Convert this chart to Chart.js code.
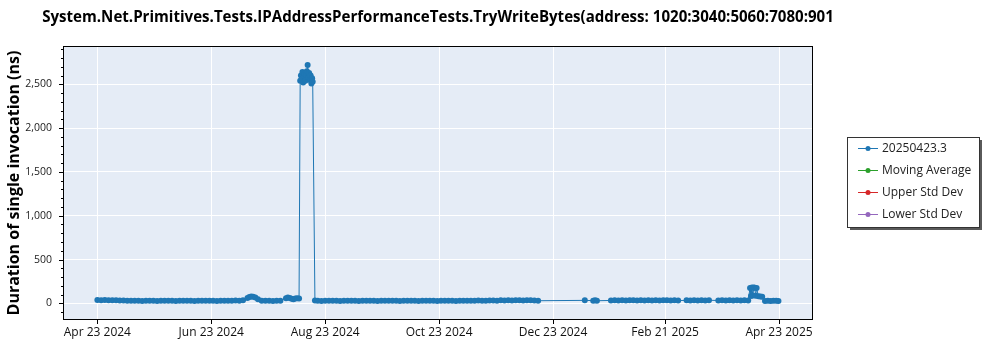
<!DOCTYPE html>
<html>
<head>
<meta charset="utf-8">
<script src="https://cdn.jsdelivr.net/npm/chart.js@4.4.1/dist/chart.umd.min.js"></script>
<style>
  html, body { margin: 0; padding: 0; background: #fff; }
</style>
</head>
<body>
<canvas id="chart" width="1000" height="350"></canvas>
<script>
// x values are days since Apr 23 2024
const titleText = "System.Net.Primitives.Tests.IPAddressPerformanceTests.TryWriteBytes(address: 1020:3040:5060:7080:901";
const yAxisTitle = "Duration of single invocation (ns)";

const tickDays = [0, 61, 122, 183, 244, 304, 365];
const tickLabels = ["Apr 23 2024", "Jun 23 2024", "Aug 23 2024", "Oct 23 2024", "Dec 23 2024", "Feb 21 2025", "Apr 23 2025"];
const yTickValues = [0, 500, 1000, 1500, 2000, 2500];

const seriesNames = ["20250423.3", "Moving Average", "Upper Std Dev", "Lower Std Dev"];
const seriesColors = ["#1f77b4", "#2ca02c", "#d62728", "#9467bd"];

const runDays = [
    0, 2, 4, 6, 8, 10, 12, 14, 16, 18,
    20, 22, 24, 26, 28, 30, 32, 34, 36, 38,
    40, 42, 44, 46, 48, 50, 52, 54, 56, 58,
    60, 62, 64, 66, 68, 70, 72, 74, 76, 78,
    80.4, 81.4, 82.4, 83.4, 84.6, 86,
    88, 90, 92, 94, 96, 98,
    101, 102, 103, 104, 105, 106, 107, 108,
    108.6, 109, 109.4, 109.8, 110.2, 110.6, 111, 111.4, 111.8,
    112.2, 112.6, 113, 113.4, 113.8, 114.2, 114.6, 115, 115.3,
    116.5, 118, 120, 122, 124, 126, 128, 130, 132, 134,
    136, 138, 140, 142, 144, 146, 148, 150, 152, 154,
    156, 158, 160, 162, 164, 166, 168, 170, 172, 174,
    176, 178, 180, 182, 184, 186, 188, 190, 192, 194,
    196, 198, 200, 202, 204, 206, 208, 210, 212, 214,
    216, 218, 220, 222, 224, 226, 228, 230, 232, 234,
    236,
    261, 265.5, 266.5, 267.5,
    275, 277, 279, 281, 283, 285, 287, 289, 291, 293,
    295, 297, 299, 301, 303, 305, 307, 309, 311,
    315.5, 317.5, 319.5, 321.5, 323.5, 325.5, 327.5,
    332.5, 334.5, 336.5, 338.5, 340.5, 342.5, 344.5, 346.5, 348.5,
    349.5, 350, 350.5, 351, 351.5, 352, 352.5, 353, 354, 355, 356,
    357.5, 359, 360.5, 362, 363.5, 364.7
];

const durations = [
    38, 36, 37, 35, 34, 36, 33, 32, 30, 31,
    29, 30, 28, 31, 29, 30, 28, 30, 29, 31,
    30, 28, 29, 30, 31, 29, 28, 30, 29, 31,
    30, 29, 28, 30, 31, 29, 30, 32, 31, 35,
    60, 72, 77, 74, 66, 48,
    31, 29, 30, 28, 30, 31,
    58, 66, 62, 52, 48, 55, 58, 54,
    2540, 2600, 2560, 2640, 2520, 2590, 2620, 2540, 2610,
    2650, 2720, 2580, 2630, 2550, 2600, 2510, 2570, 2530,
    32, 30, 28, 29, 31, 30, 29, 28, 30, 31,
    29, 30, 28, 29, 30, 31, 29, 28, 30, 29,
    31, 30, 29, 28, 30, 31, 29, 30, 28, 29,
    30, 31, 29, 28, 30, 29, 31, 30, 28, 29,
    30, 31, 30, 29, 32, 31, 30, 33, 32, 31,
    34, 33, 35, 32, 34, 36, 33, 35, 34, 32,
    30,
    34, 31, 35, 30,
    33, 35, 32, 34, 33, 36, 34, 32, 35, 33,
    34, 32, 35, 33, 34, 36, 33, 35, 32,
    34, 33, 35, 32, 34, 33, 35,
    33, 34, 32, 35, 33, 34, 32, 35, 33,
    176, 85, 180, 90, 182, 178, 86, 174, 80, 78, 76,
    28, 30, 27, 29, 31, 28
];

const FONT = "'Open Sans', 'Noto Sans', sans-serif";

const plotBackground = {
    id: "plotBackground",
    beforeDraw(chart) {
        const { ctx, chartArea: a } = chart;
        ctx.save();
        ctx.fillStyle = "#e5ecf6";
        ctx.fillRect(a.left, a.top, a.right - a.left, a.bottom - a.top);
        ctx.restore();
    }
};

const frameAndTicks = {
    id: "frameAndTicks",
    afterDraw(chart) {
        const { ctx, chartArea: a, scales } = chart;
        ctx.save();
        ctx.strokeStyle = "#000";
        ctx.lineWidth = 1;
        ctx.strokeRect(a.left + 0.5, a.top + 0.5, a.right - a.left - 1, a.bottom - a.top - 1);
        ctx.beginPath();
        // minor ticks every 100, major every 500
        for (let v = -100; v <= 2900; v += 100) {
            const y = Math.round(scales.y.getPixelForValue(v)) + 0.5;
            const len = v % 500 === 0 ? 4 : 2;
            ctx.moveTo(a.left - len, y);
            ctx.lineTo(a.left, y);
        }
        scales.x.ticks.forEach(t => {
            const x = Math.round(scales.x.getPixelForValue(t.value)) + 0.5;
            ctx.moveTo(x, a.bottom);
            ctx.lineTo(x, a.bottom + 4);
        });
        ctx.stroke();
        ctx.restore();
    }
};

const chartTitle = {
    id: "chartTitle",
    afterDraw(chart) {
        const { ctx, chartArea: a } = chart;
        ctx.save();
        ctx.font = "bold 16px " + FONT;
        const size = 16 * 792 / ctx.measureText(titleText).width;
        ctx.font = "bold " + size.toFixed(2) + "px " + FONT;
        ctx.fillStyle = "#000";
        ctx.textAlign = "center";
        ctx.textBaseline = "middle";
        ctx.fillText(titleText, (a.left + a.right) / 2, 18);
        ctx.restore();
    }
};

const legendBox = {
    id: "legendBox",
    afterDraw(chart) {
        const { ctx } = chart;
        const x = 847, y = 137, w = 132, h = 90;
        ctx.save();
        ctx.fillStyle = "#5a5a5a";
        ctx.fillRect(x + 3, y + 3, w, h);
        ctx.fillStyle = "#fff";
        ctx.fillRect(x, y, w, h);
        ctx.strokeStyle = "#333";
        ctx.lineWidth = 1;
        ctx.strokeRect(x + 0.5, y + 0.5, w, h);
        ctx.font = "12px " + FONT;
        ctx.textBaseline = "middle";
        chart.data.datasets.forEach((ds, i) => {
            const ry = y + 11.5 + i * 22;
            ctx.strokeStyle = ds.borderColor;
            ctx.beginPath();
            ctx.moveTo(x + 11, ry);
            ctx.lineTo(x + 31, ry);
            ctx.stroke();
            ctx.fillStyle = ds.borderColor;
            ctx.beginPath();
            ctx.arc(x + 21, ry, 2.5, 0, Math.PI * 2);
            ctx.fill();
            ctx.fillStyle = "#222";
            ctx.fillText(ds.label, x + 35, ry);
        });
        ctx.restore();
    }
};

new Chart(document.getElementById("chart"), {
    type: "scatter",
    data: {
        datasets: seriesNames.map((name, i) => ({
            label: name,
            data: i === 0 ? runDays.map((d, k) => ({ x: d, y: durations[k] })) : [],
            borderColor: seriesColors[i],
            backgroundColor: seriesColors[i],
            borderWidth: 1,
            pointRadius: 3,
            pointBorderWidth: 0,
            showLine: true
        }))
    },
    options: {
        responsive: false,
        animation: false,
        layout: { padding: { top: 46, right: 187, left: 0, bottom: 0 } },
        plugins: {
            legend: { display: false },
            tooltip: { enabled: false }
        },
        scales: {
            x: {
                type: "linear",
                min: -18.4,
                max: 383.2,
                afterBuildTicks: s => { s.ticks = tickDays.map(v => ({ value: v })); },
                afterFit: s => { s.height = 30; },
                grid: { color: "#fff", lineWidth: 1, drawTicks: false },
                border: { display: false },
                ticks: {
                    callback: (v, i) => tickLabels[i],
                    font: { family: FONT, size: 12 },
                    color: "#111",
                    padding: 5,
                    maxRotation: 0,
                    autoSkip: false
                }
            },
            y: {
                min: -190,
                max: 2937,
                afterBuildTicks: s => { s.ticks = yTickValues.map(v => ({ value: v })); },
                afterFit: s => { s.width = 63; },
                grid: { color: "#fff", lineWidth: 1, drawTicks: false },
                border: { display: false },
                ticks: {
                    callback: v => v.toLocaleString("en-US"),
                    font: { family: FONT, size: 10.5 },
                    color: "#222",
                    padding: 11
                },
                title: {
                    display: true,
                    text: yAxisTitle,
                    font: { family: FONT, size: 16, weight: "bold" },
                    color: "#000",
                    padding: { top: 5, bottom: 0 }
                }
            }
        }
    },
    plugins: [plotBackground, frameAndTicks, chartTitle, legendBox]
});
</script>
</body>
</html>
